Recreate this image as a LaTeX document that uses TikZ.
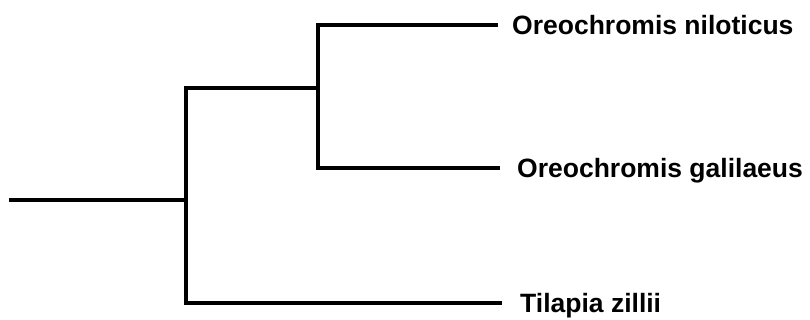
\documentclass[tikz,border=0pt]{standalone}
\usepackage{fontspec}
\setmainfont{Liberation Sans}
\begin{document}
\begin{tikzpicture}[x=1pt,y=-1pt,
  branch/.style={line width=3.6pt,draw=black},
  leaflabel/.style={anchor=base west,inner sep=0pt,font=\fontsize{26.5}{30}\selectfont\bfseries}]
\useasboundingbox (0,0) rectangle (810,320);
\coordinate (root) at (9,200);
\coordinate (a) at (186,200);
\coordinate (b) at (318,88);
\coordinate (t1) at (498,25);
\coordinate (t2) at (500,168);
\coordinate (t3) at (502,303);
\node[leaflabel] (l1) at (512,34.5) {Oreochromis niloticus};
\node[leaflabel] (l2) at (517,177.5) {Oreochromis galilaeus};
\node[leaflabel] (l3) at (520,312.5) {Tilapia zillii};
\draw[branch] (root) -- (a);
\draw[branch] (t1) -| (b) |- (t2);
\draw[branch] (b) -| (a) |- (t3);
\end{tikzpicture}
\end{document}
